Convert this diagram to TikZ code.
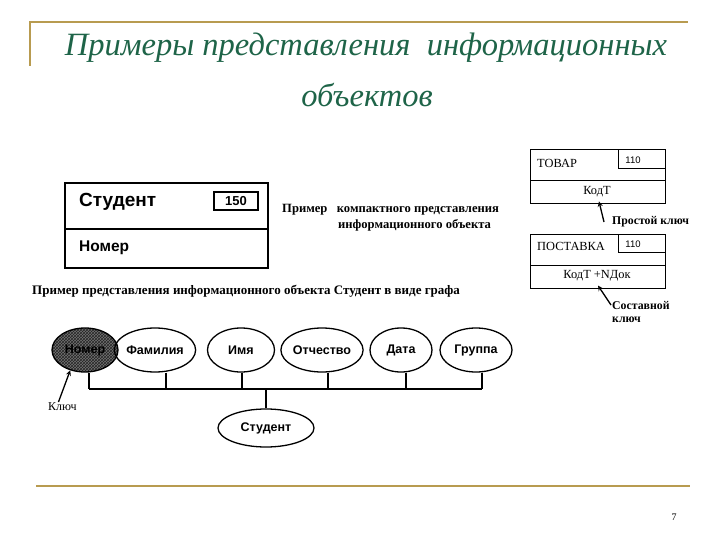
\documentclass[tikz,border=0pt]{standalone}
\usepackage{fontspec}
\setmainfont{Liberation Serif}
\setsansfont{Liberation Sans}
\usetikzlibrary{shapes.geometric,patterns}
\definecolor{gold}{RGB}{184,155,80}
\definecolor{titlegreen}{RGB}{30,100,72}
\tikzset{
  attr/.style={draw,ellipse,line width=1.3pt,minimum height=44pt,inner sep=0pt,font=\sffamily\bfseries\fontsize{12.5}{12.5}\selectfont},
  note/.style={font=\bfseries\fontsize{12.6}{13}\selectfont,inner sep=0pt},
  rnote/.style={font=\bfseries\fontsize{11.8}{13}\selectfont,inner sep=0pt},
  plain/.style={font=\fontsize{12.4}{13}\selectfont,inner sep=0pt},
  small/.style={font=\sffamily\fontsize{9.5}{9.5}\selectfont,inner sep=0pt},
  box/.style={line width=1pt},
  gline/.style={gold,line width=2.5pt},
  title/.style={titlegreen,font=\itshape\fontsize{32.5}{32.5}\selectfont},
}
\begin{document}
\begin{tikzpicture}[x=1pt,y=-1pt,>=stealth]
      \useasboundingbox (0,0) rectangle (720,540);
      \draw[gline] (30,66) -- (30,22) -- (688,22);
      \draw[gline] (36,486) -- (690,486);
      \node[title] (t1) at (366,48) {Примеры представления\ \ информационных};
      \node[title] (t2) at (367,95) {объектов};
      \node[font=\fontsize{10}{10}\selectfont] (pg) at (674,517) {7};

      \draw[line width=1.6pt] (65,183) rectangle (268,268);
      \draw[line width=1.6pt] (65,229) -- (268,229);
      \node[draw,line width=1.2pt,minimum width=44pt,minimum height=18pt,inner sep=0pt,font=\sffamily\bfseries\fontsize{13}{13}\selectfont] (n) at (236,201) {150\hspace{10pt}};
      \node[anchor=west,inner sep=0pt,font=\sffamily\bfseries\fontsize{19}{19}\selectfont] (s) at (79,202) {Студент};
      \node[anchor=west,inner sep=0pt,font=\sffamily\bfseries\fontsize{15.5}{15.5}\selectfont] (nm) at (79,248) {Номер};
      \node[note,anchor=west] (c1) at (282,210) {Пример\ \ \ компактного представления};
      \node[note,anchor=west] (c2) at (338,225) {информационного объекта};
      \node[note,anchor=west,font=\bfseries\fontsize{13}{13}\selectfont] (c3) at (32,291) {Пример\ представления\ информационного\ объекта\ Студент\ в\ виде\ графа};

      \draw[box] (530,150) rectangle (665,204);
      \draw[box] (530,181) -- (665,181);
      \draw[box] (618,150) rectangle (665,169);
      \node[plain,anchor=west] (a) at (537,163) {ТОВАР};
      \node[small] (a1) at (633,160) {110};
      \node[plain] (a2) at (597,192) {КодТ};
      \node[rnote,anchor=west] (k1) at (612,222) {Простой ключ};
      \draw[->,line width=1.3pt] ([xshift=-8pt]k1.west) -- ([yshift=-4pt,xshift=2pt]a2.south);

      \draw[box] (530,234) rectangle (665,288);
      \draw[box] (530,265) -- (665,265);
      \draw[box] (618,234) rectangle (665,252);
      \node[plain,anchor=west] (b) at (537,246) {ПОСТАВКА};
      \node[small] (b1) at (633,244) {110};
      \node[plain] (b2) at (597,276) {КодТ +NДок};
      \node[rnote,anchor=north west,align=left] (k2) at (612,301) {Составной\\ключ};
      \draw[->,line width=1.3pt] ([xshift=-1pt,yshift=-4pt]k2.north west) -- ([yshift=-4pt,xshift=1pt]b2.south);

      \node[attr,minimum width=66pt,preaction={fill=black!55},pattern=crosshatch,pattern color=black!85] (1) at (85,350) {Номер};
      \node[attr,minimum width=66pt] (2) at (155,350) {Фамилия};
      \node[attr,minimum width=67pt] (3) at (241,350) {Имя};
      \node[attr,minimum width=77pt] (4) at (322,350) {Отчество};
      \node[attr,minimum width=62pt] (5) at (401,350) {Дата};
      \node[attr,minimum width=72pt] (6) at (476,350) {Группа};
      \node[attr,minimum width=96pt,minimum height=38pt] (7) at (266,428) {Студент};
      \coordinate (busL) at (89,389);
      \coordinate (busR) at (482,389);
      \draw[line width=1.4pt] (busL) -- (busR);
      \foreach \n/\dx in {1/4,2/11,3/1,4/6,5/5,6/6}
        \draw[line width=1.4pt] ([xshift=\dx pt]\n.south) -- ([xshift=\dx pt]\n.south |- busL);
      \draw[line width=1.4pt] (7) -- (7.north |- busL);
      \node[plain,anchor=north west,font=\fontsize{12}{12}\selectfont] (k) at (48,402) {Ключ};
      \draw[->,line width=1.3pt] ([xshift=-4pt]k.north) -- (1.234);
    \end{tikzpicture}
\end{document}
